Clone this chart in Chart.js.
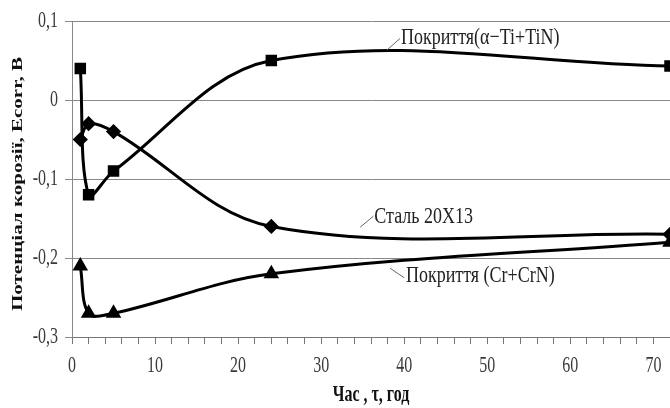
<!DOCTYPE html>
<html>
<head>
<meta charset="utf-8">
<script src="https://cdn.jsdelivr.net/npm/chart.js@4/dist/chart.umd.min.js"></script>
<style>
  html, body { margin: 0; padding: 0; background: #fff; }
  canvas { display: block; }
</style>
</head>
<body>
<canvas id="chart" width="670" height="408"></canvas>
<script>
// time, hours
const hours = [1, 2, 5, 24, 72];
// corrosion potential, V
const tiTinValues = [0.04, -0.12, -0.09, 0.05, 0.043];
const steelValues = [-0.05, -0.03, -0.04, -0.16, -0.17];
const crCrnValues = [-0.21, -0.27, -0.27, -0.22, -0.18];
const seriesNames = ['Покриття(α−Ti+TiN)', 'Сталь 20X13', 'Покриття (Cr+CrN)'];
const yTicks = [0.1, 0, -0.1, -0.2, -0.3];
const xLabelTicks = [0, 10, 20, 30, 40, 50, 60, 70];
const xTitle = 'Час , τ, год';
const yTitle = 'Потенціал корозії, Ecorr, В';

// callouts: text, text left x, text middle y, leader from x, y, to x, y (data units)
const callouts = [
    [seriesNames[0], 39.6, 0.079, 37.9, 0.063, 39.5, 0.078],
    [seriesNames[1], 36.4, -0.148, 34.7, -0.161, 36.3, -0.147],
    [seriesNames[2], 40.2, -0.222, 38.3, -0.213, 40.0, -0.225]
];

const toPoints = (vals) => hours.map((h, i) => ({x: h, y: vals[i]}));

const serif = "'Liberation Serif', serif";

// the source picture is stretched vertically, so the text is too
function drawText(ctx, text, x, y, font, color, align, stretch, rotated) {
    ctx.save();
    ctx.translate(x, y);
    if (rotated) {
        ctx.rotate(-Math.PI / 2);
        ctx.scale(stretch, 1);
    } else {
        ctx.scale(1, stretch);
    }
    ctx.font = font;
    ctx.fillStyle = color;
    ctx.textAlign = align;
    ctx.textBaseline = 'middle';
    ctx.fillText(text, 0, 0);
    ctx.restore();
}

const textPlugin = {
    id: 'texts',
    afterDraw(chart) {
        const {ctx, chartArea, scales: {x, y}} = chart;
        const tickFont = `16px ${serif}`;
        yTicks.forEach(v => {
            const label = Math.abs(v) < 1e-9 ? '0' : v.toFixed(1).replace('.', ',');
            drawText(ctx, label, x.left - 14, y.getPixelForValue(v), tickFont, '#3a3a3a', 'right', 1.4);
        });
        xLabelTicks.forEach(v => {
            drawText(ctx, String(v), x.getPixelForValue(v), chartArea.bottom + 29, tickFont, '#3a3a3a', 'center', 1.4);
        });
        const titleFont = `bold 16px ${serif}`;
        drawText(ctx, xTitle, (chartArea.left + chartArea.right) / 2, 395, titleFont, '#111', 'center', 1.4);
        drawText(ctx, yTitle, 18, (chartArea.top + chartArea.bottom) / 2 + 5, `bold 15px ${serif}`, '#111', 'center', 1.4, true);

        ctx.save();
        ctx.strokeStyle = '#666';
        ctx.lineWidth = 1;
        callouts.forEach(c => {
            ctx.beginPath();
            ctx.moveTo(x.getPixelForValue(c[3]), y.getPixelForValue(c[4]));
            ctx.lineTo(x.getPixelForValue(c[5]), y.getPixelForValue(c[6]));
            ctx.stroke();
        });
        ctx.restore();
        callouts.forEach(c => {
            drawText(ctx, c[0], x.getPixelForValue(c[1]), y.getPixelForValue(c[2]), `18px ${serif}`, '#222', 'left', 1.3);
        });
    }
};

const common = {
    borderColor: '#000',
    backgroundColor: '#000',
    pointBackgroundColor: '#000',
    pointBorderColor: '#000',
    borderWidth: 3,
    tension: 0.35,
    fill: false,
    clip: false
};

new Chart(document.getElementById('chart'), {
    type: 'line',
    data: {
        datasets: [
            {...common, label: seriesNames[0], data: toPoints(tiTinValues), pointStyle: 'rect', pointRadius: 6},
            {...common, label: seriesNames[1], data: toPoints(steelValues), pointStyle: 'rectRot', pointRadius: 5.5},
            {...common, label: seriesNames[2], data: toPoints(crCrnValues), pointStyle: 'triangle', pointRadius: 6}
        ]
    },
    options: {
        responsive: false,
        animation: false,
        devicePixelRatio: 1,
        layout: {autoPadding: false, padding: {top: 21, right: 0, left: 8, bottom: 0}},
        plugins: {legend: {display: false}, tooltip: {enabled: false}},
        scales: {
            x: {
                type: 'linear',
                min: 0,
                max: 72,
                afterFit: (s) => { s.height = 71; s.paddingRight = 0; s.paddingLeft = 0; },
                border: {color: '#777', width: 1},
                grid: {drawOnChartArea: false, drawTicks: true, tickLength: 7, color: '#777'},
                ticks: {
                    stepSize: 2,
                    autoSkip: false,
                    maxRotation: 0,
                    color: 'rgba(0,0,0,0)',
                    font: {size: 12},
                    callback: () => ''
                }
            },
            y: {
                min: -0.3,
                max: 0.1,
                afterFit: (s) => { s.width = 64; },
                afterBuildTicks: (s) => { s.ticks = yTicks.map(v => ({value: v})); },
                border: {color: '#888', width: 1},
                grid: {color: '#888', lineWidth: 1, tickLength: 7},
                ticks: {
                    color: 'rgba(0,0,0,0)',
                    callback: () => ''
                }
            }
        }
    },
    plugins: [textPlugin]
});
</script>
</body>
</html>
